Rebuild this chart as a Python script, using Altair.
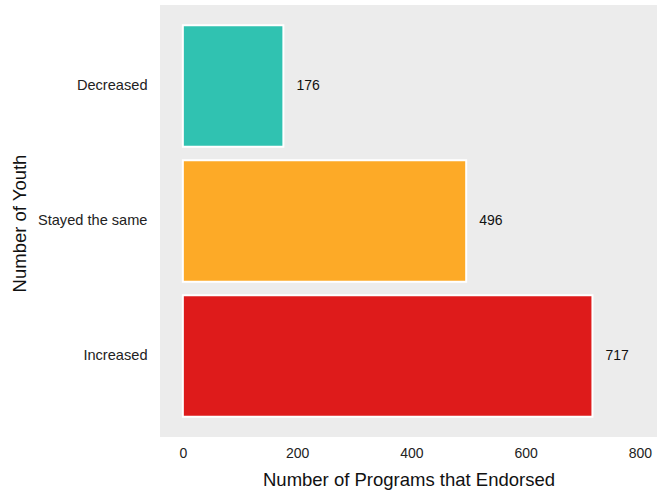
import altair as alt
import pandas as pd

# Youth count change categories and how many programs endorsed each
categories = ["Decreased", "Stayed the same", "Increased"]
programs = [176, 496, 717]
bar_colors = ["#30c2b1", "#fdaa27", "#de1b1b"]

df = pd.DataFrame({"category": categories, "programs": programs})

FONT = "Liberation Sans"

y_enc = alt.Y(
    "category:N",
    sort=categories,
    scale=alt.Scale(paddingInner=0.1, paddingOuter=0.15),
    axis=alt.Axis(
        title="Number of Youth",
        titleFont=FONT,
        titleFontSize=18.5,
        titleFontWeight="normal",
        titleColor="#111111",
        titleX=-131,
        titleY=218,
        labelFont=FONT,
        labelFontSize=14.6,
        labelColor="#222222",
        labelPadding=13,
        ticks=False,
        domain=False,
        grid=False,
    ),
)

x_enc = alt.X(
    "programs:Q",
    scale=alt.Scale(domain=[-40, 830], nice=False, zero=False),
    axis=alt.Axis(
        title="Number of Programs that Endorsed",
        titleFont=FONT,
        titleFontSize=18.5,
        titleFontWeight="normal",
        titleColor="#111111",
        titlePadding=10,
        labelFont=FONT,
        labelFontSize=14,
        labelColor="#222222",
        labelPadding=9,
        values=[0, 200, 400, 600, 800],
        ticks=False,
        domain=False,
        grid=False,
    ),
)

bars = alt.Chart(df).mark_bar(stroke="white", strokeWidth=2).encode(
    x=alt.X("zero:Q", scale=alt.Scale(domain=[-40, 830], nice=False, zero=False)),
    x2="programs:Q",
    y=y_enc,
    color=alt.Color(
        "category:N",
        scale=alt.Scale(domain=categories, range=bar_colors),
        legend=None,
    ),
).transform_calculate(zero="0")

labels = alt.Chart(df).mark_text(
    align="left", baseline="middle", dx=13, font=FONT, fontSize=14, color="#111111"
).encode(
    x=x_enc,
    y=alt.Y("category:N", sort=categories),
    text=alt.Text("programs:Q"),
)

chart = (
    alt.layer(bars, labels)
    .properties(
        width=497,
        height=432,
        autosize=alt.AutoSizeParams(type="none"),
        padding={"left": 160, "top": 5, "right": 8, "bottom": 54},
        background="white",
    )
    .configure_view(fill="#ececec", stroke=None)
)

chart.save("out.html", embed_options={"renderer": "svg", "actions": False})
